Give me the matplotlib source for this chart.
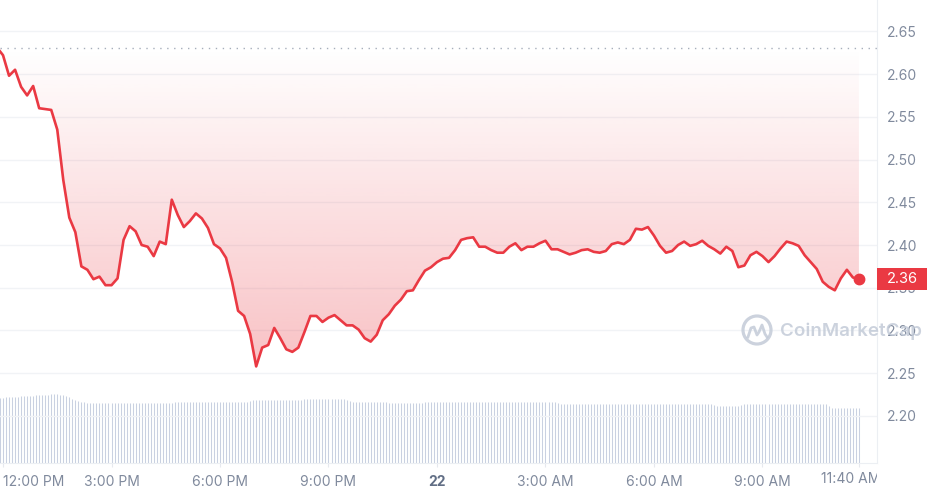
import numpy as np
import matplotlib
matplotlib.use("Agg")
import matplotlib.pyplot as plt
import matplotlib.dates as mdates
from matplotlib.patches import Rectangle, Ellipse
from matplotlib.lines import Line2D
from matplotlib.transforms import blended_transform_factory, Bbox, TransformedBbox, ScaledTranslation
from datetime import datetime, timedelta

plt.rcParams['font.family'] = ['Inter', 'DejaVu Sans']

# price every 10 minutes, starting 11:50 AM
start = datetime(2024, 1, 21, 11, 50)
price = [
    2.631, 2.622, 2.598, 2.605, 2.585, 2.575, 2.586, 2.560, 2.559, 2.558, 2.535, 2.476,
    2.432, 2.415, 2.375, 2.371, 2.360, 2.363, 2.353, 2.353, 2.361, 2.406, 2.422, 2.416,
    2.400, 2.398, 2.387, 2.404, 2.401, 2.453, 2.435, 2.421, 2.428, 2.437, 2.431, 2.420,
    2.401, 2.396, 2.385, 2.357, 2.323, 2.317, 2.296, 2.258, 2.280, 2.283, 2.303, 2.291,
    2.278, 2.275, 2.280, 2.298, 2.317, 2.317, 2.310, 2.315, 2.318, 2.312, 2.306, 2.306,
    2.301, 2.291, 2.287, 2.295, 2.312, 2.319, 2.329, 2.336, 2.346, 2.347, 2.359, 2.370,
    2.374, 2.380, 2.384, 2.385, 2.394, 2.406, 2.408, 2.409, 2.398, 2.398, 2.394, 2.391,
    2.391, 2.398, 2.402, 2.394, 2.398, 2.398, 2.402, 2.405, 2.395, 2.395, 2.392, 2.389,
    2.391, 2.394, 2.395, 2.392, 2.391, 2.393, 2.401, 2.403, 2.401, 2.406, 2.419, 2.418,
    2.421, 2.411, 2.399, 2.391, 2.393, 2.400, 2.404, 2.399, 2.401, 2.405, 2.399, 2.395,
    2.390, 2.398, 2.393, 2.374, 2.376, 2.388, 2.392, 2.387, 2.380, 2.387, 2.396, 2.404,
    2.402, 2.399, 2.388, 2.380, 2.372, 2.357, 2.351, 2.347, 2.361, 2.371, 2.362, 2.360,
]
# volume every 5 minutes (millions), one row per hour
volume = [
    650, 652, 654, 656, 658, 660, 662, 664, 666, 668, 670, 672,
    674, 676, 678, 680, 682, 684, 686, 687, 687, 685, 680, 672,
    660, 645, 632, 622, 615, 610, 605, 602, 600, 598, 597, 597,
    597, 597, 597, 597, 597, 597, 597, 597, 597, 597, 597, 597,
    597, 597, 597, 597, 597, 597, 597, 597, 597, 597, 603, 610,
    610, 610, 610, 610, 610, 610, 610, 610, 610, 610, 610, 610,
    610, 610, 610, 610, 610, 610, 610, 610, 610, 610, 610, 610,
    620, 627, 627, 627, 627, 627, 627, 627, 627, 627, 627, 627,
    627, 627, 627, 627, 627, 632, 637, 637, 637, 637, 637, 637,
    637, 637, 637, 637, 637, 637, 637, 637, 630, 620, 613, 613,
    613, 613, 613, 613, 613, 613, 613, 613, 613, 613, 605, 597,
    597, 597, 597, 597, 597, 597, 597, 597, 597, 603, 610, 610,
    610, 610, 610, 610, 610, 610, 610, 610, 610, 610, 610, 610,
    610, 610, 610, 610, 610, 610, 610, 610, 610, 610, 610, 610,
    610, 610, 610, 610, 610, 610, 610, 610, 610, 610, 610, 610,
    610, 610, 610, 610, 610, 610, 600, 590, 587, 587, 587, 587,
    587, 587, 587, 587, 587, 587, 587, 587, 587, 587, 587, 587,
    587, 587, 587, 587, 587, 587, 587, 587, 587, 587, 587, 587,
    587, 587, 587, 587, 587, 587, 587, 587, 587, 587, 587, 587,
    587, 587, 587, 587, 587, 587, 587, 587, 587, 587, 578, 570,
    570, 570, 570, 570, 570, 570, 570, 578, 587, 587, 587, 587,
    587, 587, 587, 587, 587, 587, 587, 587, 587, 587, 587, 587,
    587, 587, 587, 587, 587, 587, 587, 587, 587, 587, 587, 587,
    570, 553, 553, 553, 553, 553, 553, 553, 553, 553, 553,
]
baseline = 2.630
yticks = [2.20, 2.25, 2.30, 2.35, 2.40, 2.45, 2.50, 2.55, 2.60, 2.65]
xtick_times = [datetime(2024, 1, 21, 12), datetime(2024, 1, 21, 15), datetime(2024, 1, 21, 18),
               datetime(2024, 1, 21, 21), datetime(2024, 1, 22, 0), datetime(2024, 1, 22, 3),
               datetime(2024, 1, 22, 6), datetime(2024, 1, 22, 9), datetime(2024, 1, 22, 11, 40)]
xtick_labels = ["12:00 PM", "3:00 PM", "6:00 PM", "9:00 PM", "22",
                "3:00 AM", "6:00 AM", "9:00 AM", "11:40 AM"]

red = "#ea3943"
grey = "#808a9d"

t_price = mdates.date2num([start + timedelta(minutes=10 * i) for i in range(len(price))])
t_vol = mdates.date2num([start + timedelta(minutes=5 * i) for i in range(len(volume))])
xlim = mdates.date2num([datetime(2024, 1, 21, 11, 55), datetime(2024, 1, 22, 12, 10)])

W, H = 928, 495
fig = plt.figure(figsize=(W / 100, H / 100), dpi=100)
rect = [0, 1 - 463 / H, 877 / W, 463 / H]

# volume bars underneath
ax_v = fig.add_axes(rect)
ax_v.vlines(t_vol, 0, volume, color="#c9d1e1", lw=0.75)
ax_v.set_ylim(0, 4630)
ax_v.set_xlim(*xlim)
ax_v.axis("off")

ax = fig.add_axes(rect, facecolor="none")

# gradient fill between baseline and price
fill = ax.fill_between(t_price, price, baseline, facecolor="none", edgecolor="none")
n = 256
rgba = np.zeros((n, 1, 4))
rgba[..., :3] = matplotlib.colors.to_rgb(red)
rgba[:, 0, 3] = np.linspace(0.0, 0.31, n)
im = ax.imshow(rgba, extent=[t_price[0], t_price[-1], min(price), baseline],
               aspect="auto", origin="upper", zorder=1, interpolation="bilinear")
im.set_clip_path(fill.get_paths()[0], ax.transData)
ax.set_xlim(*xlim)
ax.set_ylim(2.145, 2.6866)

ax.axhline(baseline, color="#a6aebb", lw=1, ls=(0, (1, 4)), zorder=2)
ax.plot(t_price, price, color=red, lw=1.9, zorder=3, solid_joinstyle="round")
ax.plot(t_price[-1], price[-1], "o", color=red, ms=7.5, zorder=4)

# grid / spines
ax.set_yticks(yticks)
ax.set_yticklabels([f"{v:.2f}" for v in yticks])
ax.grid(axis="y", color="#f1f3f6", lw=1, zorder=0)
ax.set_axisbelow(True)
for s in ["top", "left"]:
    ax.spines[s].set_visible(False)
for s in ["bottom", "right"]:
    ax.spines[s].set_color("#eceff3")
ax.yaxis.tick_right()
ax.tick_params(axis="y", length=0, pad=7, labelsize=10, labelcolor=grey)

ax.set_xticks(mdates.date2num(xtick_times))
ax.set_xticklabels(xtick_labels[:-1] + [""])
ax.tick_params(axis="x", length=3, color="#e6e9ee", pad=6, labelsize=10, labelcolor=grey)
labels = ax.get_xticklabels()
labels[0].set_horizontalalignment("left")
labels[4].set_fontweight("bold")
labels[4].set_color("#616e85")

# last time label, cut at the plot edge
xb = blended_transform_factory(ax.transData, ax.transAxes)
last_lbl = ax.text(mdates.date2num(xtick_times[-1]), 0, xtick_labels[-1], fontsize=10, color=grey,
                   ha="center", va="top",
                   transform=xb + ScaledTranslation(-8 / 100, -9 / 100, fig.dpi_scale_trans))
last_lbl.set_clip_box(TransformedBbox(Bbox([[0, 0], [877 / W, 1]]), fig.transFigure))
last_lbl.set_clip_on(True)

# last price tag
tr = blended_transform_factory(ax.transAxes, ax.transData)
ax.add_patch(Rectangle((1.0, price[-1] - 0.0129), 50 / 877, 0.0257, transform=tr,
                       facecolor=red, edgecolor="none", clip_on=False, zorder=10))
ax.text(1.0 + 25 / 877, price[-1], f"{price[-1]:.2f}", transform=tr, ha="center",
        va="center", color="white", fontsize=10.5, zorder=11, clip_on=False)

# watermark
wm = "#c3cbd8"
fig.add_artist(Ellipse((757 / W, 1 - 330 / H), 28 / W, 28 / H, transform=fig.transFigure,
                       fill=False, edgecolor=wm, lw=2.3, alpha=0.85))
wx = np.array([748, 751, 754, 757, 759, 762, 765, 767]) / W
wy = 1 - np.array([337, 328, 327, 335, 332, 325, 334, 337]) / H
fig.add_artist(Line2D(wx, wy, transform=fig.transFigure, color=wm, lw=2.0, alpha=0.85))
fig.text(780 / W, 1 - 331 / H, "CoinMarketCap", fontsize=13.5, color=wm, alpha=0.85,
         fontweight="semibold", ha="left", va="center")

fig.savefig("out.png", dpi=100)
